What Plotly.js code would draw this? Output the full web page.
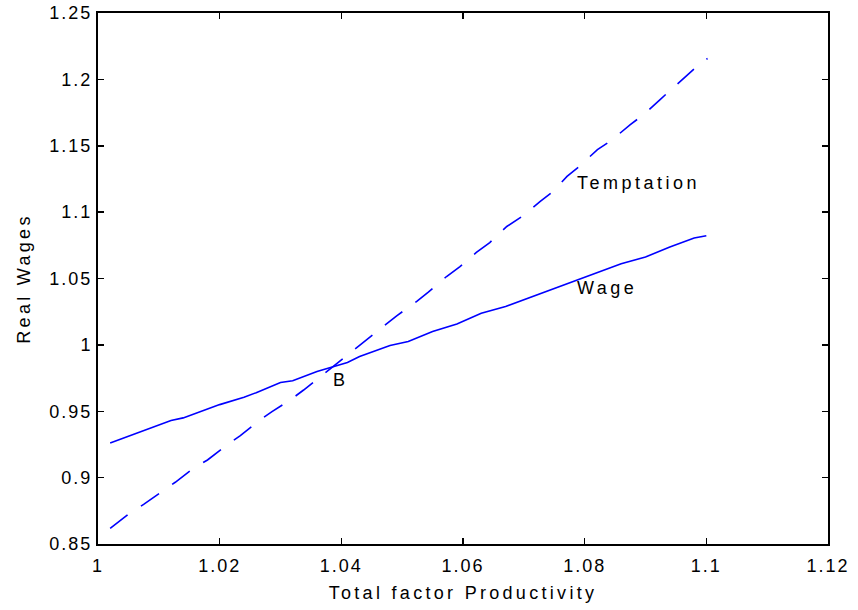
<!DOCTYPE html>
<html>
<head>
<meta charset="utf-8">
<script src="https://cdn.plot.ly/plotly-3.0.1.min.js"></script>
<style>
html, body { margin: 0; padding: 0; background: #fff; }
#chart { width: 858px; height: 610px; }
.xtick text, .ytick text { letter-spacing: 2px; }
.g-xtitle text, .g-ytitle text { letter-spacing: 3.3px; }
.annotation-text, .annotation text { letter-spacing: 3.5px; }
</style>
</head>
<body>
<div id="chart"></div>
<script>
// Wage (solid line)
const wageX = [1.002, 1.006, 1.008, 1.012, 1.014, 1.018, 1.020, 1.024, 1.026, 1.030, 1.032, 1.036, 1.039, 1.041, 1.043, 1.048, 1.051, 1.055, 1.059, 1.063, 1.067, 1.073, 1.079, 1.082, 1.086, 1.090, 1.094, 1.098, 1.100];
const wageY = [0.926, 0.933, 0.936, 0.943, 0.945, 0.952, 0.955, 0.9605, 0.964, 0.9716, 0.973, 0.980, 0.9837, 0.9867, 0.9912, 0.9995, 1.0025, 1.010, 1.0158, 1.0239, 1.0289, 1.039, 1.0497, 1.0543, 1.0611, 1.0662, 1.0737, 1.0805, 1.0822];

// Temptation (dashed line)
const tempX = [1.002, 1.005, 1.0075, 1.0105, 1.0127, 1.0157, 1.018, 1.0212, 1.0234, 1.0264, 1.0286, 1.0316, 1.0338, 1.0368, 1.039, 1.0406, 1.0420, 1.0439, 1.0472, 1.0491, 1.0524, 1.0543, 1.0573, 1.0595, 1.0622, 1.0644, 1.0672, 1.0697, 1.0727, 1.0746, 1.0771, 1.0791, 1.0821, 1.0844, 1.0875, 1.0897, 1.0924, 1.0943, 1.0973, 1.0992, 1.1002];
const tempY = [0.8618, 0.8725, 0.8799, 0.8894, 0.8965, 0.9070, 0.9133, 0.9246, 0.9316, 0.9427, 0.9497, 0.9585, 0.9660, 0.9770, 0.9850, 0.9910, 0.9962, 1.0032, 1.0151, 1.0219, 1.0327, 1.0397, 1.0515, 1.0590, 1.0696, 1.0771, 1.0892, 1.0967, 1.1081, 1.1148, 1.1269, 1.1344, 1.1471, 1.1541, 1.1659, 1.1735, 1.1848, 1.1928, 1.2049, 1.2129, 1.2157];

const xTicks = [1, 1.02, 1.04, 1.06, 1.08, 1.1, 1.12];
const xTickText = ['1', '1.02', '1.04', '1.06', '1.08', '1.1', '1.12'];
const yTicks = [0.85, 0.9, 0.95, 1, 1.05, 1.1, 1.15, 1.2, 1.25];
const yTickText = ['0.85', '0.9', '0.95', '1', '1.05', '1.1', '1.15', '1.2', '1.25'];

const labelText = ['Temptation', 'Wage', 'B'];
const labelX = [1.0784, 1.0784, 1.0400];
const labelY = [1.1222, 1.043, 0.9736];

const font = 'Liberation Sans, Arial, sans-serif';

const traces = [
  { x: wageX, y: wageY, type: 'scatter', mode: 'lines', name: 'Wage',
    line: { color: '#0000ff', width: 1.6 } },
  { x: tempX, y: tempY, type: 'scatter', mode: 'lines', name: 'Temptation',
    line: { color: '#0000ff', width: 1.6, dash: '22px,16px' } }
];

const annotations = labelText.map((t, i) => ({
  x: labelX[i], y: labelY[i], xref: 'x', yref: 'y', text: t, showarrow: false,
  xanchor: i === 2 ? 'center' : 'left', yanchor: 'middle',
  font: { family: font, size: 18, color: '#000' }
}));

const layout = {
  width: 858, height: 610,
  margin: { l: 98, r: 30, t: 13, b: 66, pad: 0 },
  paper_bgcolor: '#fff', plot_bgcolor: '#fff',
  showlegend: false,
  font: { family: font, size: 17, color: '#000' },
  xaxis: {
    range: [1, 1.12], tickmode: 'array', tickvals: xTicks, ticktext: xTickText,
    ticks: 'inside', ticklen: 6, tickwidth: 1.5, tickcolor: '#000',
    showline: true, linecolor: '#000', linewidth: 2, mirror: 'ticks',
    showgrid: false, zeroline: false, ticklabelstandoff: 4,
    tickfont: { family: font, size: 18, color: '#000' },
    title: { text: 'Total factor Productivity', font: { family: font, size: 18, color: '#000' }, standoff: 12 }
  },
  yaxis: {
    range: [0.85, 1.25], tickmode: 'array', tickvals: yTicks, ticktext: yTickText,
    ticks: 'inside', ticklen: 6, tickwidth: 1.5, tickcolor: '#000',
    showline: true, linecolor: '#000', linewidth: 2, mirror: 'ticks',
    showgrid: false, zeroline: false,
    tickfont: { family: font, size: 18, color: '#000' },
    title: { text: 'Real Wages', font: { family: font, size: 18, color: '#000' }, standoff: 14 }
  },
  annotations: annotations
};

Plotly.newPlot('chart', traces, layout, { displayModeBar: false, staticPlot: true });
</script>
</body>
</html>
